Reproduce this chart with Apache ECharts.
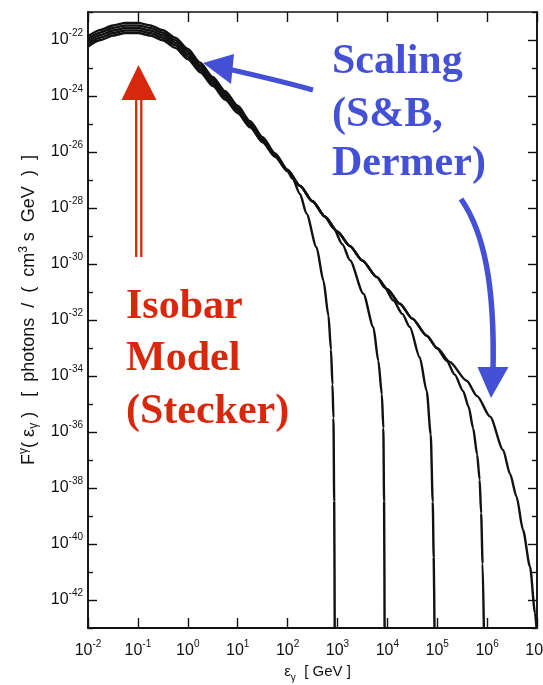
<!DOCTYPE html>
<html>
<head>
<meta charset="utf-8">
<script src="https://cdn.jsdelivr.net/npm/echarts@6/dist/echarts.min.js"></script>
<style>
  html, body { margin: 0; padding: 0; background: #fff; }
  #chart { width: 543px; height: 685px; }
</style>
</head>
<body>
<div id="chart"></div>
<script>
// Gamma-ray emissivity F(E) for proton spectra with different cut-off energies.
// All values are decimal exponents: logE = log10(E / GeV), logF = log10(F).

// Low-energy part, shared energy grid
const lowE = [-2, -1.75, -1.5, -1.25, -1, -0.75, -0.5, -0.25, 0, 0.25, 0.5, 0.75, 1, 1.25, 1.5, 1.75, 2];
const lowF_cut3 = [-22.23, -22.0, -21.84, -21.75, -21.75, -21.84, -22.01, -22.28, -22.68, -23.15, -23.64, -24.13, -24.61, -25.12, -25.65, -26.17, -26.69];
const lowF_cut4 = [-22.14, -21.91, -21.75, -21.66, -21.66, -21.75, -21.92, -22.19, -22.59, -23.07, -23.56, -24.06, -24.55, -25.07, -25.61, -26.14, -26.68];
const lowF_cut5 = [-22.05, -21.82, -21.66, -21.57, -21.57, -21.66, -21.83, -22.1, -22.5, -22.98, -23.48, -23.98, -24.48, -25.01, -25.56, -26.11, -26.66];
const lowF_cut6 = [-21.96, -21.73, -21.57, -21.48, -21.48, -21.57, -21.74, -22.01, -22.41, -22.9, -23.4, -23.9, -24.41, -24.96, -25.52, -26.08, -26.65];
const lowF_cut7 = [-21.87, -21.64, -21.48, -21.39, -21.39, -21.48, -21.65, -21.92, -22.32, -22.81, -23.32, -23.83, -24.35, -24.9, -25.47, -26.05, -26.63];

// High-energy tails, one per cut-off energy
const tailE_cut3 = [2.1, 2.25, 2.38, 2.58, 2.72, 2.82, 2.87, 2.9, 2.92, 2.935, 2.945];
const tailF_cut3 = [-26.95, -27.5, -28.2, -29.4, -30.6, -31.85, -33.05, -34.3, -35.5, -38.5, -43];

const tailE_cut4 = [2.25, 2.5, 2.75, 2.92, 3.1, 3.25, 3.52, 3.72, 3.82, 3.89, 3.92, 3.935, 3.945];
const tailF_cut4 = [-27.21, -27.76, -28.31, -28.72, -29.3, -29.86, -31.06, -32.26, -33.46, -34.65, -35.86, -38.5, -43];

const tailE_cut5 = [2.25, 2.5, 2.75, 3, 3.25, 3.5, 3.79, 3.95, 4.12, 4.3, 4.45, 4.65, 4.79, 4.87, 4.91, 4.93, 4.945];
const tailF_cut5 = [-27.21, -27.76, -28.31, -28.85, -29.36, -29.88, -30.47, -30.85, -31.3, -31.78, -32.25, -33.34, -34.54, -36.09, -38.49, -40.5, -43];

const tailE_cut6 = [2.25, 2.5, 2.75, 3, 3.25, 3.5, 3.79, 4, 4.25, 4.5, 4.79, 5, 5.19, 5.35, 5.52, 5.63, 5.72, 5.8, 5.85, 5.88, 5.91, 5.935];
const tailF_cut6 = [-27.21, -27.76, -28.31, -28.85, -29.36, -29.88, -30.47, -30.9, -31.42, -31.95, -32.56, -33.02, -33.46, -33.95, -34.54, -35.1, -35.86, -36.8, -37.7, -38.9, -40.7, -43];

const tailE_cut7 = [2.25, 2.5, 2.75, 3, 3.25, 3.5, 3.79, 4, 4.25, 4.5, 4.79, 5, 5.25, 5.59, 5.8, 6.06, 6.32, 6.46, 6.59, 6.72, 6.86, 6.96, 6.99];
const tailF_cut7 = [-27.21, -27.76, -28.31, -28.85, -29.36, -29.88, -30.47, -30.9, -31.42, -31.95, -32.56, -33.0, -33.5, -34.17, -34.72, -35.45, -36.64, -37.5, -38.31, -39.5, -40.81, -42.46, -43];

// Axis ticks (exponents of ten)
const xTickExps = [-2, -1, 0, 1, 2, 3, 4, 5, 6, 7];
const yMajorExps = [-42, -40, -38, -36, -34, -32, -30, -28, -26, -24, -22];
const yMinorExps = [-43, -41, -39, -37, -35, -33, -31, -29, -27, -25, -23, -21];

const curves = [
  { name: '1e3 GeV', lowF: lowF_cut3, tailE: tailE_cut3, tailF: tailF_cut3 },
  { name: '1e4 GeV', lowF: lowF_cut4, tailE: tailE_cut4, tailF: tailF_cut4 },
  { name: '1e5 GeV', lowF: lowF_cut5, tailE: tailE_cut5, tailF: tailF_cut5 },
  { name: '1e6 GeV', lowF: lowF_cut6, tailE: tailE_cut6, tailF: tailF_cut6 },
  { name: '1e7 GeV', lowF: lowF_cut7, tailE: tailE_cut7, tailF: tailF_cut7 }
];

const SANS = '"Liberation Sans", Arial, sans-serif';
const SERIF = '"Liberation Serif", "Times New Roman", serif';
const INK = '#111';
const BLUE = '#4450d6';
const RED = '#d8280c';

const powRich = {
  b: { fontFamily: SANS, fontSize: 16, lineHeight: 24, color: INK, verticalAlign: 'middle' },
  s: { fontFamily: SANS, fontSize: 10, lineHeight: 10, color: INK, verticalAlign: 'top' }
};
const powLabel = v => '{b|10}{s|' + v + '}';

function yAxisPart(position, values, tickLen, withLabels) {
  return {
    type: 'value', position: position, min: -43, max: -21, interval: 1,
    axisLine: { show: true, onZero: false, lineStyle: { color: INK, width: 1.6 } },
    axisTick: { show: true, inside: true, length: tickLen, customValues: values,
                lineStyle: { color: INK, width: 1.4 } },
    axisLabel: withLabels
      ? { show: true, customValues: values, margin: 5,
          formatter: v => (Math.round(v) % 2 === 0 ? powLabel(Math.round(v)) : ''), rich: powRich }
      : { show: false },
    splitLine: { show: false }
  };
}

const chart = echarts.init(document.getElementById('chart'), null, { renderer: 'canvas' });

const series = curves.map(c => ({
  name: c.name,
  type: 'line',
  xAxisIndex: 0, yAxisIndex: 0,
  showSymbol: false, symbol: 'none',
  smooth: 0.25, smoothMonotone: 'x',
  lineStyle: { color: INK, width: 2.4 },
  data: lowE.map((e, i) => [e, c.lowF[i]]).concat(c.tailE.map((e, i) => [e, c.tailF[i]])),
  silent: true, z: 3
}));

const yLeftMajor = yAxisPart('left', yMajorExps, 9, true);
yLeftMajor.name = '{t|F}{sp|γ}{t|( }{t|ε}{sb|γ}{t| )   [  photons  /  (  cm}{sp|3}{t| s  GeV  )  ]}';
yLeftMajor.nameLocation = 'middle';
yLeftMajor.nameGap = 46;
yLeftMajor.nameRotate = 90;
yLeftMajor.nameTextStyle = {
  padding: [0, 0, 0, 20],
  rich: {
    t: { fontFamily: SANS, fontSize: 18, lineHeight: 22, color: INK, verticalAlign: 'middle' },
    sp: { fontFamily: SANS, fontSize: 12, lineHeight: 10, color: INK, verticalAlign: 'top' },
    sb: { fontFamily: SANS, fontSize: 12, lineHeight: 10, color: INK, verticalAlign: 'bottom' }
  }
};

chart.setOption({
  animation: false,
  backgroundColor: '#fff',
  grid: { left: 88, right: 6, top: 12, bottom: 57, containLabel: false, outerBoundsMode: 'none' },
  xAxis: [
    {
      type: 'value', position: 'bottom', min: -2, max: 7, interval: 1,
      axisLine: { show: true, onZero: false, lineStyle: { color: INK, width: 1.8 } },
      axisTick: { show: true, inside: true, length: 10, lineStyle: { color: INK, width: 1.4 } },
      axisLabel: { show: true, margin: 11, customValues: xTickExps, formatter: v => powLabel(Math.round(v)), rich: powRich },
      splitLine: { show: false },
      name: '{t|ε}{sb|γ}{t|  [ GeV ]}',
      nameLocation: 'middle', nameGap: 33,
      nameTextStyle: {
        padding: [0, 0, 0, 10],
        rich: {
          t: { fontFamily: SANS, fontSize: 15, lineHeight: 22, color: INK, verticalAlign: 'middle' },
          sb: { fontFamily: SANS, fontSize: 10, lineHeight: 10, color: INK, verticalAlign: 'bottom' }
        }
      }
    },
    {
      type: 'value', position: 'top', min: -2, max: 7, interval: 1,
      axisLine: { show: true, onZero: false, lineStyle: { color: INK, width: 1.6 } },
      axisTick: { show: true, inside: true, length: 10, lineStyle: { color: INK, width: 1.4 } },
      axisLabel: { show: false },
      splitLine: { show: false }
    }
  ],
  yAxis: [
    yLeftMajor,
    yAxisPart('left', yMinorExps, 5, false),
    yAxisPart('right', yMajorExps, 9, false),
    yAxisPart('right', yMinorExps, 5, false)
  ],
  series: series
});

// Annotations: labels and arrows drawn on top of the plot
const blueText = (txt, y) => ({
  type: 'text', x: 332, y: y, z: 10,
  style: { text: txt, font: 'bold 42px ' + SERIF, fill: BLUE, verticalAlign: 'middle', align: 'left' }
});
const redText = (txt, y) => ({
  type: 'text', x: 126, y: y, z: 10,
  style: { text: txt, font: 'bold 42px ' + SERIF, fill: RED, verticalAlign: 'middle', align: 'left' }
});

chart.setOption({
  graphic: [
    blueText('Scaling', 62),
    blueText('(S&B,', 115),
    blueText('Dermer)', 164),
    redText('Isobar', 307),
    redText('Model', 359),
    redText('(Stecker)', 412),
    // red double-shafted arrow
    { type: 'line', z: 10, shape: { x1: 136.2, y1: 98, x2: 136.2, y2: 257 }, style: { stroke: RED, lineWidth: 2.3 } },
    { type: 'line', z: 10, shape: { x1: 141.3, y1: 98, x2: 141.3, y2: 257 }, style: { stroke: RED, lineWidth: 2.3 } },
    { type: 'polygon', z: 10, shape: { points: [[138.5, 65], [121.5, 100], [156.5, 100]] }, style: { fill: RED } },
    // blue arrow pointing at the curve band
    { type: 'bezierCurve', z: 10, shape: { x1: 313, y1: 90, cpx1: 285, cpy1: 82, x2: 228, y2: 69 },
      style: { stroke: BLUE, lineWidth: 5, fill: null } },
    { type: 'polygon', z: 10, shape: { points: [[203, 63], [234, 54], [231, 84]] }, style: { fill: BLUE } },
    // blue curved arrow pointing down along the high-energy tails
    { type: 'bezierCurve', z: 10, shape: { x1: 461, y1: 199, cpx1: 484, cpy1: 232, cpx2: 495, cpy2: 285, x2: 493, y2: 372 },
      style: { stroke: BLUE, lineWidth: 5.5, fill: null } },
    { type: 'polygon', z: 10, shape: { points: [[477.5, 367], [508.5, 367], [491, 398]] }, style: { fill: BLUE } }
  ]
});
</script>
</body>
</html>
